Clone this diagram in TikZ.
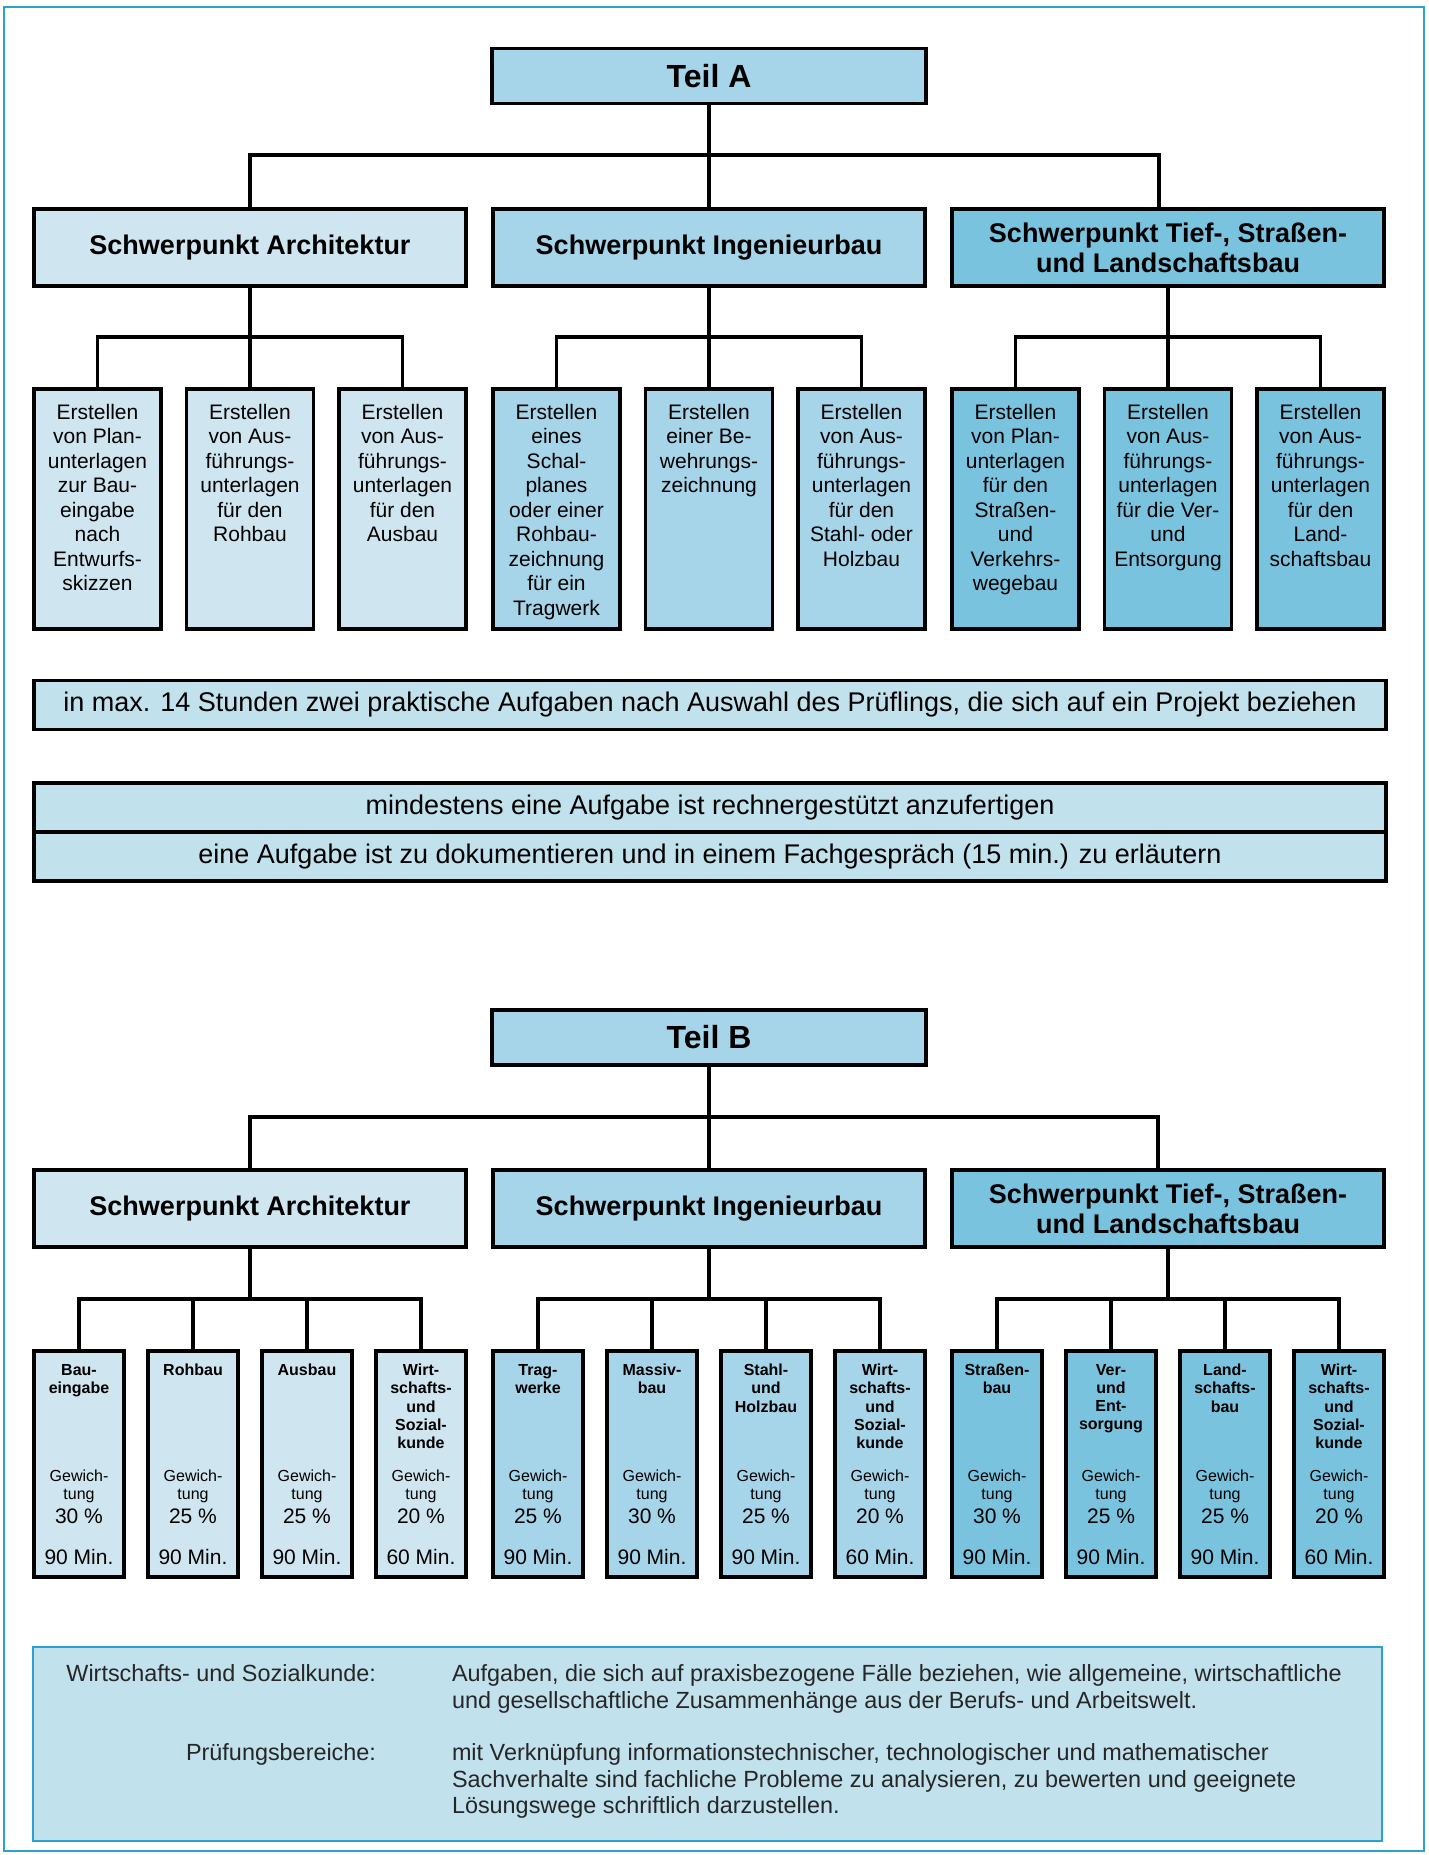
\documentclass[tikz,border=0pt]{standalone}
\usepackage{fontspec}
\setmainfont{Liberation Sans}
\usetikzlibrary{positioning, calc}

\definecolor{paleblue}{RGB}{207,230,240}
\definecolor{midblue}{RGB}{166,212,232}
\definecolor{deepblue}{RGB}{122,195,223}
\definecolor{noteblue}{RGB}{193,225,237}
\definecolor{framecyan}{RGB}{45,162,208}

\begin{document}
\begin{tikzpicture}[x=1pt, y=-1pt,
    box/.style={rectangle, draw=black, line width=3.8pt, inner sep=0pt, align=center},
    teil/.style={box, fill=midblue, minimum width=434pt, minimum height=55pt, font=\fontsize{32}{36}\selectfont\bfseries},
    grpbox/.style={box, minimum width=432pt, minimum height=77pt, font=\fontsize{27}{30}\selectfont\bfseries},
    taskbox/.style={box, minimum width=127pt, minimum height=240pt},
    tasktxt/.style={align=center, inner sep=0pt, outer sep=0pt, font=\fontsize{21}{24.5}\selectfont},
    notebox/.style={box, fill=noteblue, minimum width=1352pt, minimum height=49pt, font=\fontsize{27}{30}\selectfont},
    smallbox/.style={box, minimum width=90pt, minimum height=226pt},
    smalltitle/.style={align=center, inner sep=0pt, outer sep=0pt, font=\fontsize{16}{18.2}\selectfont\bfseries},
    smallweight/.style={align=center, inner sep=0pt, outer sep=0pt, anchor=north, font=\fontsize{16}{17.8}\selectfont},
    smallbig/.style={inner sep=0pt, outer sep=0pt, anchor=north, font=\fontsize{21}{24}\selectfont},
    infobox/.style={rectangle, draw=framecyan, line width=2pt, fill=noteblue, minimum width=1349pt, minimum height=194pt},
    infotxt/.style={align=left, inner sep=0pt, outer sep=0pt, text=black!85, font=\fontsize{23.4}{26.5}\selectfont},
    conn/.style={line width=3.6pt}
  ]
  \useasboundingbox (0,0) rectangle (1429,1855);
  \draw[framecyan, line width=2.5pt] (4,7) rectangle (1424,1851);

  % Teil A
  \node[teil] (teilA) at (709,76) {Teil A};
  \node[grpbox, fill=paleblue] (archA) at (250,247.5) {Schwerpunkt Architektur};
  \node[grpbox, fill=midblue] (ingA) at (709,247.5) {Schwerpunkt Ingenieurbau};
  \node[grpbox, fill=deepblue] (tiefA) at (1168,247.5) {Schwerpunkt Tief-, Straßen-\\und Landschaftsbau};

  \coordinate (busA) at (709,155);
  \draw[conn] (teilA.south) -- (ingA.north);
  \draw[conn] (archA.north) |- (busA) -| ([xshift=-9pt]tiefA.north);

  \node[taskbox, fill=paleblue] (a1) at (97.5,509) {};
  \node[taskbox, fill=paleblue] (a2) at (250,509) {};
  \node[taskbox, fill=paleblue] (a3) at (402.5,509) {};
  \node[taskbox, fill=midblue] (a4) at (556.5,509) {};
  \node[taskbox, fill=midblue] (a5) at (709,509) {};
  \node[taskbox, fill=midblue] (a6) at (861.5,509) {};
  \node[taskbox, fill=deepblue] (a7) at (1015.5,509) {};
  \node[taskbox, fill=deepblue] (a8) at (1168,509) {};
  \node[taskbox, fill=deepblue] (a9) at (1320.5,509) {};

  \node[tasktxt, below=17pt of a1.north] (a1t) {Erstellen\\von Plan-\\unterlagen\\zur Bau-\\eingabe\\nach\\Entwurfs-\\skizzen};
  \node[tasktxt, below=17pt of a2.north] (a2t) {Erstellen\\von Aus-\\führungs-\\unterlagen\\für den\\Rohbau};
  \node[tasktxt, below=17pt of a3.north] (a3t) {Erstellen\\von Aus-\\führungs-\\unterlagen\\für den\\Ausbau};
  \node[tasktxt, below=17pt of a4.north] (a4t) {Erstellen\\eines\\Schal-\\planes\\oder einer\\Rohbau-\\zeichnung\\für ein\\Tragwerk};
  \node[tasktxt, below=17pt of a5.north] (a5t) {Erstellen\\einer Be-\\wehrungs-\\zeichnung};
  \node[tasktxt, below=17pt of a6.north] (a6t) {Erstellen\\von Aus-\\führungs-\\unterlagen\\für den\\Stahl- oder\\Holzbau};
  \node[tasktxt, below=17pt of a7.north] (a7t) {Erstellen\\von Plan-\\unterlagen\\für den\\Straßen-\\und\\Verkehrs-\\wegebau};
  \node[tasktxt, below=17pt of a8.north] (a8t) {Erstellen\\von Aus-\\führungs-\\unterlagen\\für die Ver-\\und\\Entsorgung};
  \node[tasktxt, below=17pt of a9.north] (a9t) {Erstellen\\von Aus-\\führungs-\\unterlagen\\für den\\Land-\\schaftsbau};

  \coordinate (busArchA) at (250,337);
  \coordinate (busIngA) at (709,337);
  \coordinate (busTiefA) at (1168,337);
  \draw[conn] (archA.south) -- (a2.north);
  \draw[conn] (a1.north) |- (busArchA) -| (a3.north);
  \draw[conn] (ingA.south) -- (a5.north);
  \draw[conn] (a4.north) |- (busIngA) -| (a6.north);
  \draw[conn] (tiefA.south) -- (a8.north);
  \draw[conn] (a7.north) |- (busTiefA) -| (a9.north);

  % Aufgaben
  \node[notebox] (aufg) at (710,705) {in max. 14 Stunden zwei praktische Aufgaben nach Auswahl des Prüflings, die sich auf ein Projekt beziehen};
  \node[notebox] (rech) at (710,807.5) {mindestens eine Aufgabe ist rechnergestützt anzufertigen};
  \node[notebox] (doku) at (710,856.5) {eine Aufgabe ist zu dokumentieren und in einem Fachgespräch (15 min.) zu erläutern};

  % Teil B
  \node[teil] (teilB) at (709,1037.5) {Teil B};
  \node[grpbox, fill=paleblue] (archB) at (250,1208.5) {Schwerpunkt Architektur};
  \node[grpbox, fill=midblue] (ingB) at (709,1208.5) {Schwerpunkt Ingenieurbau};
  \node[grpbox, fill=deepblue] (tiefB) at (1168,1208.5) {Schwerpunkt Tief-, Straßen-\\und Landschaftsbau};

  \coordinate (busB) at (709,1117);
  \draw[conn] (teilB.south) -- (ingB.north);
  \draw[conn] (archB.north) |- (busB) -| ([xshift=-10pt]tiefB.north);

  \foreach \n/\x/\c/\t/\p/\m in {
      ba1/79/paleblue/{Bau-\\eingabe}/30/90,
      ba2/193/paleblue/{Rohbau}/25/90,
      ba3/307/paleblue/{Ausbau}/25/90,
      ba4/421/paleblue/{Wirt-\\schafts-\\und\\Sozial-\\kunde}/20/60,
      bi1/538/midblue/{Trag-\\werke}/25/90,
      bi2/652/midblue/{Massiv-\\bau}/30/90,
      bi3/766/midblue/{Stahl-\\und\\Holzbau}/25/90,
      bi4/880/midblue/{Wirt-\\schafts-\\und\\Sozial-\\kunde}/20/60,
      bt1/997/deepblue/{Straßen-\\bau}/30/90,
      bt2/1111/deepblue/{Ver-\\und\\Ent-\\sorgung}/25/90,
      bt3/1225/deepblue/{Land-\\schafts-\\bau}/25/90,
      bt4/1339/deepblue/{Wirt-\\schafts-\\und\\Sozial-\\kunde}/20/60}{
    \node[smallbox, fill=\c] (\n) at (\x,1464) {};
    \node[smalltitle, below=15pt of \n.north] (\n-t) {\t};
    \node[smallweight] (\n-w) at (\x,1470) {Gewich-\\tung};
    \node[smallbig] (\n-p) at (\x,1509) {\p\ \%};
    \node[smallbig] (\n-m) at (\x,1549) {\m\ Min.};
  }

  \coordinate (busArchB) at (250,1299);
  \coordinate (busIngB) at (709,1299);
  \coordinate (busTiefB) at (1168,1299);
  \draw[conn] (archB.south) -- (busArchB);
  \draw[conn] (ba1.north) |- (busArchB) -| (ba4.north);
  \draw[conn] (ba2.north) -- (ba2.north |- busArchB);
  \draw[conn] (ba3.north) -- (ba3.north |- busArchB);
  \draw[conn] (ingB.south) -- (busIngB);
  \draw[conn] (bi1.north) |- (busIngB) -| (bi4.north);
  \draw[conn] (bi2.north) -- (bi2.north |- busIngB);
  \draw[conn] (bi3.north) -- (bi3.north |- busIngB);
  \draw[conn] (tiefB.south) -- (busTiefB);
  \draw[conn] (bt1.north) |- (busTiefB) -| (bt4.north);
  \draw[conn] (bt2.north) -- (bt2.north |- busTiefB);
  \draw[conn] (bt3.north) -- (bt3.north |- busTiefB);

  % Erlaeuterungen
  \node[infobox] (info) at (707.5,1744) {};
  \node[infotxt, anchor=north east] (wisoL) at (376,1665) {Wirtschafts- und Sozialkunde:};
  \node[infotxt, anchor=north west] (wisoR) at (452,1665) {Aufgaben, die sich auf praxisbezogene Fälle beziehen, wie allgemeine, wirtschaftliche\\und gesellschaftliche Zusammenhänge aus der Berufs- und Arbeitswelt.};
  \node[infotxt, anchor=north east] (prfL) at (376,1744) {Prüfungsbereiche:};
  \node[infotxt, anchor=north west] (prfR) at (452,1744) {mit Verknüpfung informationstechnischer, technologischer und mathematischer\\Sachverhalte sind fachliche Probleme zu analysieren, zu bewerten und geeignete\\Lösungswege schriftlich darzustellen.};
\end{tikzpicture}
\end{document}
